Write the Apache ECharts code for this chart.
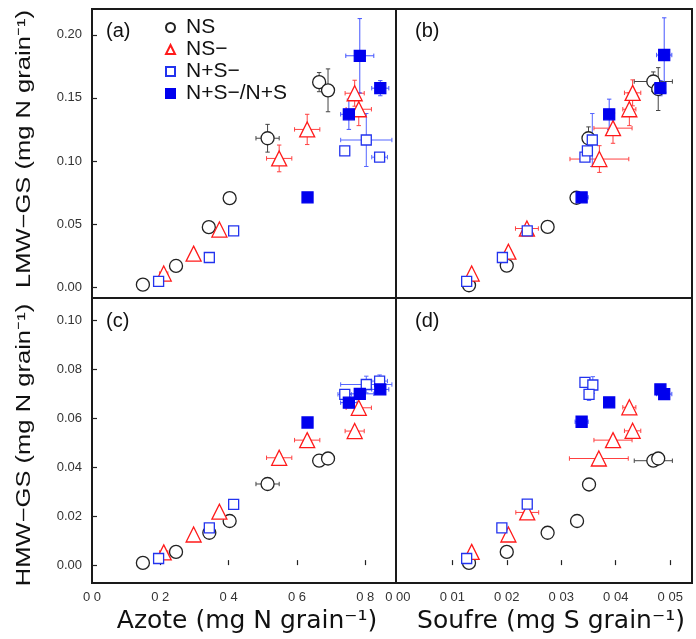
<!DOCTYPE html>
<html><head><meta charset="utf-8">
<script src="https://cdn.jsdelivr.net/npm/echarts@6/dist/echarts.min.js"></script>
<style>html,body{margin:0;padding:0;background:#fff}#c{width:696px;height:639px}</style>
</head><body><div id="c"></div>
<script>
// rows: [x, y, xerr, yerr]
const groups = ['NS', 'NS−', 'N+S−', 'N+S−/N+S'];
// (a) Azote vs LMW-GS
const A_NS = [[0.149,0.0019,0,0],[0.246,0.0167,0,0],[0.342,0.0475,0,0],[0.403,0.0705,0.005,0.0021],[0.514,0.118,0.034,0.011],[0.665,0.1625,0.014,0.0076],[0.691,0.156,0.018,0.017]];
const A_NSm = [[0.210,0.0107,0.012,0.002],[0.2975,0.0265,0,0],[0.373,0.0456,0,0],[0.548,0.102,0.037,0.0106],[0.630,0.125,0.037,0.012],[0.769,0.1537,0.028,0.0103],[0.781,0.141,0.037,0.013]];
const A_NpSm = [[0.195,0.0045,0,0],[0.3435,0.0234,0,0],[0.4147,0.0445,0,0],[0.740,0.108,0.006,0.0021],[0.803,0.1166,0.075,0.021],[0.842,0.103,0.023,0.002]];
const A_NpSmNS = [[0.631,0.0711,0,0],[0.752,0.137,0.024,0.012],[0.784,0.1834,0.041,0.0295],[0.844,0.1577,0.025,0.006]];
// (b) Soufre vs LMW-GS
const B_NS = [[0.01307,0.0014,0,0],[0.0200,0.017,0.0006,0],[0.0275,0.0477,0.0006,0],[0.0328,0.0708,0.0011,0.002],[0.035,0.118,0.0003,0.009],[0.0469,0.163,0.0035,0.0076],[0.0478,0.157,0.0006,0.017]];
const B_NSm = [[0.01356,0.0107,0,0],[0.0203,0.028,0.0005,0.002],[0.0237,0.0464,0.0021,0.002],[0.037,0.1015,0.0054,0.0106],[0.0395,0.126,0.0035,0.012],[0.0431,0.154,0.0015,0.0103],[0.0425,0.141,0.0012,0.013]];
const B_NpSm = [[0.01264,0.0045,0,0],[0.0192,0.0234,0,0],[0.02376,0.0445,0,0],[0.03435,0.103,0.0003,0],[0.0348,0.108,0.0003,0.002],[0.0357,0.1166,0.0003,0.021]];
const B_NpSmNS = [[0.03374,0.0711,0.0012,0],[0.0388,0.137,0.0006,0.012],[0.0489,0.184,0.0014,0.0295],[0.0482,0.1577,0.0006,0.006]];
// (c) Azote vs HMW-GS
const C_NS = [[0.149,0.0009,0,0],[0.246,0.0054,0,0],[0.3435,0.0132,0,0],[0.403,0.0180,0,0],[0.514,0.0331,0.034,0.0017],[0.665,0.0426,0.014,0.0008],[0.691,0.0435,0.018,0.0013]];
const C_NSm = [[0.21,0.0052,0.012,0],[0.2975,0.0125,0,0],[0.373,0.0218,0,0],[0.548,0.0438,0.037,0.0016],[0.630,0.0510,0.037,0.0011],[0.769,0.0547,0.028,0.0005],[0.781,0.0642,0.037,0.0008]];
const C_NpSm = [[0.195,0.0027,0,0],[0.3435,0.0152,0,0],[0.4147,0.0248,0,0],[0.740,0.0697,0.02,0.001],[0.803,0.0737,0.075,0.0034],[0.842,0.0751,0.023,0.0025]];
const C_NpSmNS = [[0.631,0.0582,0,0.0013],[0.752,0.0663,0.024,0.0012],[0.784,0.0699,0.041,0.001],[0.844,0.0717,0.025,0.0012]];
// (d) Soufre vs HMW-GS
const D_NS = [[0.01307,0.0009,0,0],[0.0200,0.0054,0.0005,0],[0.0275,0.0132,0.0006,0],[0.0329,0.0180,0.0011,0],[0.0351,0.0329,0.0003,0.0017],[0.0469,0.0426,0.0035,0.0008],[0.0478,0.0435,0.0006,0.0013]];
const D_NSm = [[0.01356,0.0054,0,0],[0.0203,0.0125,0.0005,0],[0.02376,0.0215,0.0021,0.0005],[0.0369,0.0435,0.0054,0.0016],[0.0395,0.051,0.0035,0.0011],[0.0431,0.0548,0.0015,0.0005],[0.0425,0.0644,0.0012,0.0008]];
const D_NpSm = [[0.01264,0.0027,0,0],[0.0191,0.0152,0,0],[0.02376,0.0249,0,0.001],[0.03435,0.0746,0.0003,0.001],[0.0358,0.0735,0.0003,0.0034],[0.0351,0.0697,0.0003,0.0025]];
const D_NpSmNS = [[0.03374,0.0585,0.0012,0.0013],[0.0388,0.0664,0.0006,0.0012],[0.0482,0.0717,0.0006,0.0012],[0.0489,0.0698,0.0014,0.001]];

// axis ticks and labels
const xTicksN = [0, 0.2, 0.4, 0.6, 0.8];
const xLabelsN = ['0 0', '0 2', '0 4', '0 6', '0 8'];
const xTicksS = [0, 0.01, 0.02, 0.03, 0.04, 0.05];
const xLabelsS = ['0 00', '0 01', '0 02', '0 03', '0 04', '0 05'];
const yTicksL = [0, 0.05, 0.10, 0.15, 0.20];
const yTicksH = [0, 0.02, 0.04, 0.06, 0.08, 0.10];
const panelLabels = ['(a)', '(b)', '(c)', '(d)'];
const titleX = ['Azote (mg N grain⁻¹)', 'Soufre (mg S grain⁻¹)'];
const titleY = ['LMW−GS (mg N grain⁻¹)', 'HMW−GS (mg N grain⁻¹)'];

const panels = [
  [A_NS, A_NSm, A_NpSm, A_NpSmNS],
  [B_NS, B_NSm, B_NpSm, B_NpSmNS],
  [C_NS, C_NSm, C_NpSm, C_NpSmNS],
  [D_NS, D_NSm, D_NpSm, D_NpSmNS]
];

const sty = [
  {symbol: 'circle', size: 13, fill: '#fff', stroke: '#222', err: '#444'},
  {symbol: 'triangle', size: 15, fill: '#fff', stroke: '#ff1a1a', err: '#ff4040'},
  {symbol: 'rect', size: 10, fill: '#fff', stroke: '#2233ee', err: '#5566ff'},
  {symbol: 'rect', size: 11, fill: '#0000ee', stroke: '#0000ee', err: '#4455ff'}
];

const L = 92, M = 396, R = 692, T = 9, MID = 298, B = 583;
const grids = [
  {left: L, top: T, width: M - L, height: MID - T},
  {left: M, top: T, width: R - M, height: MID - T},
  {left: L, top: MID, width: M - L, height: B - MID},
  {left: M, top: MID, width: R - M, height: B - MID}
].map(g => Object.assign(g, {show: true, borderColor: '#1a1a1a', borderWidth: 2, backgroundColor: 'transparent', outerBoundsMode: 'none', containLabel: false}));

const tickFont = {fontFamily: 'Liberation Sans', fontSize: 13, color: '#333'};

function xAx(i) {
  const isN = (i % 2 === 0);
  const bottom = i >= 2;
  return {
    type: 'value', gridIndex: i,
    min: isN ? 0 : -0.00033, max: isN ? 0.89 : 0.054,
    axisLine: {show: false}, splitLine: {show: false},
    axisTick: {show: bottom, inside: true, length: 5, lineStyle: {color: '#222', width: 1.2}, customValues: isN ? xTicksN.slice(1) : xTicksS.slice(1)},
    axisLabel: Object.assign({show: bottom, margin: 8, customValues: isN ? xTicksN : xTicksS,
      formatter: v => { const t = isN ? xTicksN : xTicksS; const lb = isN ? xLabelsN : xLabelsS; let k = 0; t.forEach((tv, j) => { if (Math.abs(tv - v) < 1e-9) k = j; }); return lb[k]; }}, tickFont)
  };
}
function yAx(i) {
  const isL = i < 2;
  const left = (i % 2 === 0);
  return {
    type: 'value', gridIndex: i,
    min: isL ? -0.0087 : -0.0073, max: isL ? 0.2205 : 0.109,
    axisLine: {show: false}, splitLine: {show: false},
    axisTick: {show: left, inside: true, length: 5, lineStyle: {color: '#222', width: 1.2}, customValues: isL ? yTicksL : yTicksH},
    axisLabel: Object.assign({show: left, margin: 10, customValues: isL ? yTicksL : yTicksH, formatter: v => v.toFixed(2)}, tickFont)
  };
}

const series = [];
panels.forEach((pg, pi) => {
  pg.forEach((rows, gi) => {
    const s = sty[gi];
    series.push({
      type: 'custom', name: groups[gi] + ' err', xAxisIndex: pi, yAxisIndex: pi, z: 2, silent: true,
      data: rows, encode: {x: 0, y: 1},
      renderItem: function (params, api) {
        const x = api.value(0), y = api.value(1), ex = api.value(2), ey = api.value(3);
        const ch = [];
        const ls = {stroke: s.err, lineWidth: 1};
        const cap = 2.2;
        if (ex > 0) {
          const p1 = api.coord([x - ex, y]), p2 = api.coord([x + ex, y]);
          ch.push({type: 'line', shape: {x1: p1[0], y1: p1[1], x2: p2[0], y2: p2[1]}, style: ls});
          ch.push({type: 'line', shape: {x1: p1[0], y1: p1[1] - cap, x2: p1[0], y2: p1[1] + cap}, style: ls});
          ch.push({type: 'line', shape: {x1: p2[0], y1: p2[1] - cap, x2: p2[0], y2: p2[1] + cap}, style: ls});
        }
        if (ey > 0) {
          const p1 = api.coord([x, y - ey]), p2 = api.coord([x, y + ey]);
          ch.push({type: 'line', shape: {x1: p1[0], y1: p1[1], x2: p2[0], y2: p2[1]}, style: ls});
          ch.push({type: 'line', shape: {x1: p1[0] - cap, y1: p1[1], x2: p1[0] + cap, y2: p1[1]}, style: ls});
          ch.push({type: 'line', shape: {x1: p2[0] - cap, y1: p2[1], x2: p2[0] + cap, y2: p2[1]}, style: ls});
        }
        return {type: 'group', children: ch};
      }
    });
    series.push({
      type: 'scatter', name: groups[gi], xAxisIndex: pi, yAxisIndex: pi, z: 3,
      symbol: s.symbol, symbolSize: s.size,
      itemStyle: {color: s.fill, borderColor: s.stroke, borderWidth: 1.3, opacity: 1},
      data: rows.map(r => [r[0], r[1]])
    });
  });
});

const txt = (x, y, t, size) => ({type: 'text', x: x, y: y, z: 10,
  style: {text: t, fontSize: size, fontFamily: 'Liberation Sans', fill: '#111', align: 'left', verticalAlign: 'middle'}});
const titleStyle = (t, fam, size) => ({text: t, fontSize: size, fontFamily: fam, fill: '#111', align: 'center', verticalAlign: 'middle'});

const graphic = [
  txt(106, 31, panelLabels[0], 20),
  txt(415, 31, panelLabels[1], 20),
  txt(106, 321, panelLabels[2], 20),
  txt(415, 321, panelLabels[3], 20),
  {type: 'text', x: 247, y: 621, style: titleStyle(titleX[0], 'DejaVu Sans', 25)},
  {type: 'text', x: 551, y: 621, style: titleStyle(titleX[1], 'DejaVu Sans', 25)},
  {type: 'text', x: 25, y: 149, rotation: Math.PI / 2, scaleX: 1.31, style: titleStyle(titleY[0], 'Liberation Sans', 19.5)},
  {type: 'text', x: 25, y: 445, rotation: Math.PI / 2, scaleX: 1.31, style: titleStyle(titleY[1], 'Liberation Sans', 19.5)}
];

const chart = echarts.init(document.getElementById('c'), null, {renderer: 'canvas'});
chart.setOption({
  animation: false,
  backgroundColor: '#fff',
  grid: grids,
  xAxis: [0, 1, 2, 3].map(xAx),
  yAxis: [0, 1, 2, 3].map(yAx),
  legend: {
    data: groups, orient: 'vertical', left: 160, top: 12,
    itemWidth: 9, itemHeight: 9, itemGap: 1,
    textStyle: {fontFamily: 'Liberation Sans', fontSize: 21, color: '#111', padding: [0, 0, 0, 6]},
    selectedMode: false
  },
  graphic: graphic,
  series: series
});
</script></body></html>
